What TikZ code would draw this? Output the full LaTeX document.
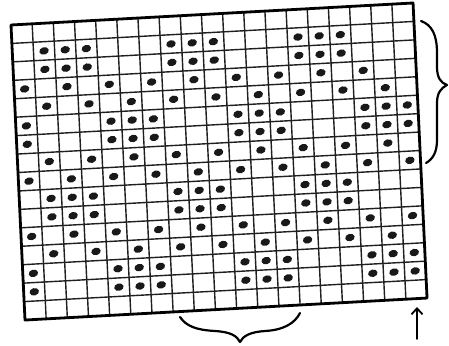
\documentclass[tikz,border=0pt]{standalone}
\usetikzlibrary{arrows.meta}
\begin{document}
\begin{tikzpicture}[x=1pt,y=1pt,
  gridline/.style={line width=1.4pt, black!88},
  frameline/.style={line width=2.8pt, black, line join=round},
  dotmark/.style={fill=black!90},
  bracestroke/.style={line width=2.2pt, line cap=round, line join=round, black},
  arrowstroke/.style={line width=1.8pt, line cap=round, black, -{Straight Barb[length=6pt,width=11pt]}}
]
\useasboundingbox (0,0) rectangle (449,345);
\fill[white] (0,0) rectangle (449,345);
\begin{scope}[shift={(11,320)}, x={(21.16pt,1.158pt)}, y={(0.875pt,-18.44pt)}]
  \foreach \i in {1,...,18} \draw[gridline] (\i,0) -- (\i,16);
  \foreach \j in {1,...,15} \draw[gridline] (0,\j) -- (19,\j);
  \draw[frameline] (0,0) -- (19,0) -- (19,16) -- (0,16) -- cycle;
  % rows with groups 1-3 mod 6
  \foreach \r in {1,2,9,10} \foreach \c in {1,2,3,7,8,9,13,14,15}
     \fill[dotmark, rotate around={15:(\c+0.5,\r+0.5)}] (\c+0.5,\r+0.5) ellipse [x radius=4.8pt, y radius=3.7pt];
  % rows with even columns
  \foreach \c in {0,2,4,6,8,10,12,14,16}
     \fill[dotmark, rotate around={15:(\c+0.5,3.5)}] (\c+0.5,3.5) ellipse [x radius=4.8pt, y radius=3.7pt];
  \foreach \r in {8,11} \foreach \c in {0,2,4,6,8,10,12,14,16,18}
     \fill[dotmark, rotate around={15:(\c+0.5,\r+0.5)}] (\c+0.5,\r+0.5) ellipse [x radius=4.8pt, y radius=3.7pt];
  % rows with odd columns
  \foreach \r in {4,7,12} \foreach \c in {1,3,5,7,9,11,13,15,17}
     \fill[dotmark, rotate around={15:(\c+0.5,\r+0.5)}] (\c+0.5,\r+0.5) ellipse [x radius=4.8pt, y radius=3.7pt];
  % rows with groups 4-6 mod 6
  \foreach \r in {5,6,13,14} \foreach \c in {0,4,5,6,10,11,12,16,17,18}
     \fill[dotmark, rotate around={15:(\c+0.5,\r+0.5)}] (\c+0.5,\r+0.5) ellipse [x radius=4.8pt, y radius=3.7pt];
\end{scope}
% right brace
\draw[bracestroke] (421,324) .. controls (432,320) and (437,310) .. (437,292)
  -- (437,278) .. controls (437,267) and (441,262) .. (447,260)
  .. controls (441,257) and (437,252) .. (437,242)
  -- (437,205) .. controls (437,193) and (433,186) .. (426,182);
% bottom brace
\draw[bracestroke] (180,28) .. controls (186,19) and (196,15) .. (215,14)
  .. controls (231,13) and (237,9) .. (240,3)
  .. controls (243,9) and (250,13) .. (265,14)
  .. controls (284,15) and (295,22) .. (300,32);
% arrow
\coordinate (arrowtail) at (417,6);
\coordinate (arrowhead) at (417,38);
\draw[arrowstroke] (arrowtail) -- (arrowhead);
\end{tikzpicture}
\end{document}
